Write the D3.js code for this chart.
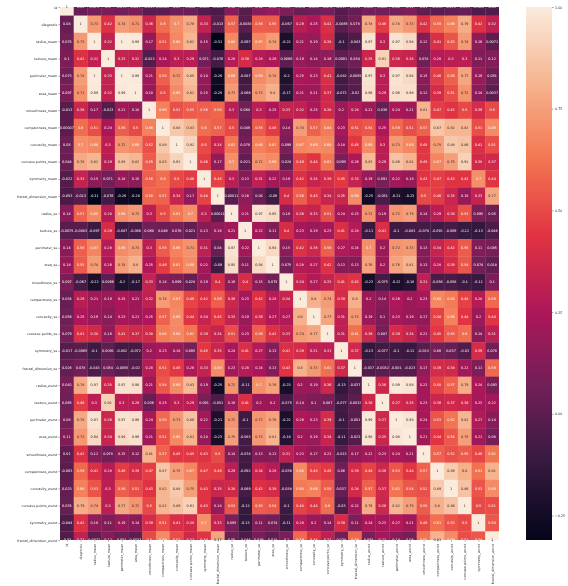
<!DOCTYPE html>
<html>
  <head>
    <meta charset="utf-8">
    <title>Correlation heatmap</title>
    <style media="screen">
      body {margin:0; background:#fff}
      svg {position:absolute; left:0; top:0; display:block; filter:blur(.45px)}
      text {font-family:"DejaVu Sans", sans-serif}
      .domain {display:none}
    </style>
  </head>
  <body>
    <script src="https://cdn.jsdelivr.net/npm/d3@7"></script>
    <script type="text/javascript">

    const labels = ['id','diagnosis','radius_mean','texture_mean','perimeter_mean','area_mean','smoothness_mean','compactness_mean','concavity_mean','concave points_mean','symmetry_mean','fractal_dimension_mean','radius_se','texture_se','perimeter_se','area_se','smoothness_se','compactness_se','concavity_se','concave points_se','symmetry_se','fractal_dimension_se','radius_worst','texture_worst','perimeter_worst','area_worst','smoothness_worst','compactness_worst','concavity_worst','concave points_worst','symmetry_worst','fractal_dimension_worst']

    const corr = [
      [1,.04,.075,.1,.073,.097,-.013,.00007,.05,.044,-.022,-.053,.14,-.0075,.14,.18,.097,.034,.056,.079,-.017,.026,.082,.065,.08,.11,.01,-.003,.023,.035,-.044,-.03],
      [.04,1,.73,.42,.74,.71,.36,.6,.7,.78,.33,-.013,.57,-.0083,.56,.55,-.067,.29,.25,.41,-.0065,.078,.78,.46,.78,.73,.42,.59,.66,.79,.42,.32],
      [.075,.73,1,.32,1,.99,.17,.51,.68,.82,.15,-.31,.68,-.097,.67,.74,-.22,.21,.19,.38,-.1,-.043,.97,.3,.97,.94,.12,.41,.53,.74,.16,.0071],
      [.1,.42,.32,1,.33,.32,-.023,.24,.3,.29,.071,-.076,.28,.39,.28,.26,.0066,.19,.14,.16,.0091,.054,.35,.91,.36,.34,.078,.28,.3,.3,.11,.12],
      [.073,.74,1,.33,1,.99,.21,.56,.72,.85,.18,-.26,.69,-.087,.69,.74,-.2,.25,.23,.41,-.082,-.0055,.97,.3,.97,.94,.15,.46,.56,.77,.19,.051],
      [.097,.71,.99,.32,.99,1,.18,.5,.69,.82,.15,-.28,.73,-.066,.73,.8,-.17,.21,.21,.37,-.072,-.02,.96,.29,.96,.96,.12,.39,.51,.72,.14,.0037],
      [-.013,.36,.17,-.023,.21,.18,1,.66,.52,.55,.56,.58,.3,.068,.3,.25,.33,.32,.25,.38,.2,.28,.21,.036,.24,.21,.81,.47,.43,.5,.39,.5],
      [.00007,.6,.51,.24,.56,.5,.66,1,.88,.83,.6,.57,.5,.046,.55,.46,.14,.74,.57,.64,.23,.51,.54,.25,.59,.51,.57,.87,.82,.82,.51,.69],
      [.05,.7,.68,.3,.72,.69,.52,.88,1,.92,.5,.34,.63,.076,.66,.62,.099,.67,.69,.68,.18,.45,.69,.3,.73,.68,.45,.75,.88,.86,.41,.51],
      [.044,.78,.82,.29,.85,.82,.55,.83,.92,1,.46,.17,.7,.021,.71,.69,.028,.49,.44,.62,.095,.26,.83,.29,.86,.81,.45,.67,.75,.91,.38,.37],
      [-.022,.33,.15,.071,.18,.15,.56,.6,.5,.46,1,.48,.3,.13,.31,.22,.19,.42,.34,.39,.45,.33,.19,.091,.22,.18,.43,.47,.43,.43,.7,.44],
      [-.053,-.013,-.31,-.076,-.26,-.28,.58,.57,.34,.17,.48,1,.00011,.16,.04,-.09,.4,.56,.45,.34,.35,.69,-.25,-.051,-.21,-.23,.5,.46,.35,.18,.33,.77],
      [.14,.57,.68,.28,.69,.73,.3,.5,.63,.7,.3,.00011,1,.21,.97,.95,.16,.36,.33,.51,.24,.23,.72,.19,.72,.75,.14,.29,.38,.53,.095,.05],
      [-.0075,-.0083,-.097,.39,-.087,-.066,.068,.046,.076,.021,.13,.16,.21,1,.22,.11,.4,.23,.19,.23,.41,.28,-.11,.41,-.1,-.083,-.074,-.092,-.069,-.12,-.13,-.046],
      [.14,.56,.67,.28,.69,.73,.3,.55,.66,.71,.31,.04,.97,.22,1,.94,.15,.42,.36,.56,.27,.24,.7,.2,.72,.73,.13,.34,.42,.55,.11,.085],
      [.18,.55,.74,.26,.74,.8,.25,.46,.62,.69,.22,-.09,.95,.11,.94,1,.075,.28,.27,.42,.13,.13,.76,.2,.76,.81,.13,.28,.39,.54,.074,.018],
      [.097,-.067,-.22,.0066,-.2,-.17,.33,.14,.099,.028,.19,.4,.16,.4,.15,.075,1,.34,.27,.33,.41,.43,-.23,-.075,-.22,-.18,.31,-.056,-.058,-.1,-.11,.1],
      [.034,.29,.21,.19,.25,.21,.32,.74,.67,.49,.42,.56,.36,.23,.42,.28,.34,1,.8,.74,.39,.8,.2,.14,.26,.2,.23,.68,.64,.48,.28,.59],
      [.056,.25,.19,.14,.23,.21,.25,.57,.69,.44,.34,.45,.33,.19,.36,.27,.27,.8,1,.77,.31,.73,.19,.1,.23,.19,.17,.48,.66,.44,.2,.44],
      [.079,.41,.38,.16,.41,.37,.38,.64,.68,.62,.39,.34,.51,.23,.56,.42,.33,.74,.77,1,.31,.61,.36,.087,.39,.34,.22,.45,.55,.6,.14,.31],
      [-.017,-.0065,-.1,.0091,-.082,-.072,.2,.23,.18,.095,.45,.35,.24,.41,.27,.13,.41,.39,.31,.31,1,.37,-.13,-.077,-.1,-.11,-.013,.06,.037,-.03,.39,.078],
      [.026,.078,-.043,.054,-.0055,-.02,.28,.51,.45,.26,.33,.69,.23,.28,.24,.13,.43,.8,.73,.61,.37,1,-.037,-.0032,-.001,-.023,.17,.39,.38,.22,.11,.59],
      [.082,.78,.97,.35,.97,.96,.21,.54,.69,.83,.19,-.25,.72,-.11,.7,.76,-.23,.2,.19,.36,-.13,-.037,1,.36,.99,.98,.22,.48,.57,.79,.24,.093],
      [.065,.46,.3,.91,.3,.29,.036,.25,.3,.29,.091,-.051,.19,.41,.2,.2,-.075,.14,.1,.087,-.077,-.0032,.36,1,.37,.35,.23,.36,.37,.36,.23,.22],
      [.08,.78,.97,.36,.97,.96,.24,.59,.73,.86,.22,-.21,.72,-.1,.72,.76,-.22,.26,.23,.39,-.1,-.001,.99,.37,1,.98,.24,.53,.62,.82,.27,.14],
      [.11,.73,.94,.34,.94,.96,.21,.51,.68,.81,.18,-.23,.75,-.083,.73,.81,-.18,.2,.19,.34,-.11,-.023,.98,.35,.98,1,.21,.44,.54,.75,.21,.08],
      [.01,.42,.12,.078,.15,.12,.81,.57,.45,.45,.43,.5,.14,-.074,.13,.13,.31,.23,.17,.22,-.013,.17,.22,.23,.24,.21,1,.57,.52,.55,.49,.62],
      [-.003,.59,.41,.28,.46,.39,.47,.87,.75,.67,.47,.46,.29,-.092,.34,.28,-.056,.68,.48,.45,.06,.39,.48,.36,.53,.44,.57,1,.89,.8,.61,.81],
      [.023,.66,.53,.3,.56,.51,.43,.82,.88,.75,.43,.35,.38,-.069,.42,.39,-.058,.64,.66,.55,.037,.38,.57,.37,.62,.54,.52,.89,1,.86,.53,.69],
      [.035,.79,.74,.3,.77,.72,.5,.82,.86,.91,.43,.18,.53,-.12,.55,.54,-.1,.48,.44,.6,-.03,.22,.79,.36,.82,.75,.55,.8,.86,1,.5,.51],
      [-.044,.42,.16,.11,.19,.14,.39,.51,.41,.38,.7,.33,.095,-.13,.11,.074,-.11,.28,.2,.14,.39,.11,.24,.23,.27,.21,.49,.61,.53,.5,1,.54],
      [-.03,.32,.0071,.12,.051,.0037,.5,.69,.51,.37,.44,.77,.05,-.046,.085,.018,.1,.59,.44,.31,.078,.59,.093,.22,.14,.08,.62,.81,.69,.51,.54,1]
    ]

    const cbarTicks = [1, .75, .5, .25, 0, -.25]

    // rocket colormap stops
    const rocket = ['#03051a','#35193e','#701f57','#ad1759','#e13342','#f37651','#f6b48f','#faebdd']

    const W = 568, H = 586
    const plotL = 60, plotR = 499, plotT = 7, plotB = 540
    const n = labels.length
    const vmin = d3.min(corr, r => d3.min(r))

    // cells go in their own svg, texts and axes in a second one on top
    const under = d3.select('body').append('svg').attr('width', W).attr('height', H)
    const svg = d3.select('body').append('svg').attr('width', W).attr('height', H)

    const x = d3.scaleLinear().domain([0, n]).range([plotL, plotR])
    // half of the first and last row are cut off in the reference, clamping does it
    const y = d3.scaleLinear().domain([.5, n - .5]).range([plotT, plotB]).clamp(true)

    const color = d3.scaleLinear()
      .domain(rocket.map((_, i) => vmin + (1 - vmin) * i / (rocket.length - 1)))
      .range(rocket)
      .clamp(true)

    function lum (c) {
      const f = v => { v /= 255; return v <= .03928 ? v / 12.92 : Math.pow((v + .055) / 1.055, 2.4) }
      const k = d3.rgb(c)
      return .2126 * f(k.r) + .7152 * f(k.g) + .0722 * f(k.b)
    }

    const cells = corr.flatMap((row, j) => row.map((v, i) => ({i, j, v})))

    under.selectAll('g').data(corr).join('g')
      .selectAll('rect').data((row, j) => row.map((v, i) => ({i, j, v}))).join('rect')
      .attr('x', d => x(d.i))
      .attr('y', d => y(d.j))
      .attr('width', d => x(d.i + 1) - x(d.i) + (d.i < n - 1 ? .3 : 0))
      .attr('height', d => y(d.j + 1) - y(d.j) + (d.j < n - 1 ? .3 : 0))
      .attr('fill', d => color(d.v))

    svg.append('g').selectAll('text').data(cells).join('text')
      .attr('x', d => x(d.i + .5))
      .attr('y', d => y(d.j + .5))
      .attr('dy', '.35em')
      .attr('text-anchor', 'middle')
      .attr('font-size', 3.4)
      .attr('fill', d => lum(color(d.v)) > .408 ? '#262626' : '#fff')
      .text(d => String(+d.v.toPrecision(2)))

    const yAxis = d3.axisLeft(y)
      .tickValues(labels.map((_, i) => i + .5))
      .tickFormat((_, i) => labels[i])
      .tickSize(1.6).tickPadding(1.2)

    svg.append('g').attr('transform', `translate(${plotL},0)`).call(yAxis)
      .call(g => g.selectAll('text').attr('font-size', 3.3).attr('fill', '#262626').attr('font-family', null))
      .call(g => g.selectAll('line').attr('stroke', '#262626').attr('stroke-width', .4))

    const xAxis = d3.axisBottom(x)
      .tickValues(labels.map((_, i) => i + .5))
      .tickFormat((_, i) => labels[i])
      .tickSize(1.6).tickPadding(1.2)

    svg.append('g').attr('transform', `translate(0,${plotB})`).call(xAxis)
      .call(g => g.selectAll('text')
        .attr('font-size', 3.3).attr('fill', '#262626').attr('font-family', null)
        .attr('text-anchor', 'end')
        .attr('transform', 'rotate(-90)')
        .attr('x', -4).attr('y', 0).attr('dy', '.32em'))
      .call(g => g.selectAll('line').attr('stroke', '#262626').attr('stroke-width', .4))

    // colour bar
    const cbar = d3.scaleLinear().domain([vmin, 1]).range([plotB, plotT])

    const grad = svg.append('defs').append('linearGradient')
      .attr('id', 'cbar').attr('x1', 0).attr('x2', 0).attr('y1', 1).attr('y2', 0)
    grad.selectAll('stop').data(rocket).join('stop')
      .attr('offset', (_, i) => i / (rocket.length - 1))
      .attr('stop-color', d => d)

    svg.append('rect')
      .attr('x', 526).attr('y', plotT)
      .attr('width', 26).attr('height', plotB - plotT)
      .attr('fill', 'url(#cbar)')

    svg.append('g').attr('transform', 'translate(552,0)')
      .call(d3.axisRight(cbar).tickValues(cbarTicks).tickFormat(d3.format('.2f')).tickSize(1.6).tickPadding(1.5))
      .call(g => g.selectAll('text').attr('font-size', 3.3).attr('fill', '#262626').attr('font-family', null))
      .call(g => g.selectAll('line').attr('stroke', '#262626').attr('stroke-width', .4))

    </script>
  </body>
</html>
